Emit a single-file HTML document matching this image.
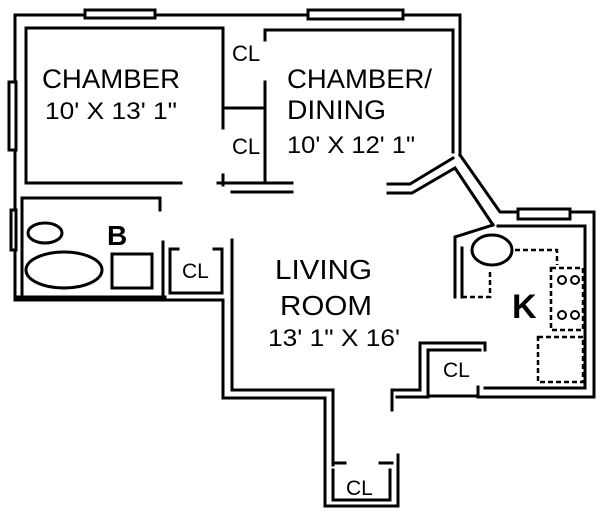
<!DOCTYPE html>
<html><head><style>html,body{margin:0;padding:0;background:#fff}svg{display:block}
text{font-family:"Liberation Sans",Arial,sans-serif;fill:#000}</style></head><body>
<svg width="600" height="511" viewBox="0 0 600 511" xmlns="http://www.w3.org/2000/svg">
<g fill="none" stroke="#000" stroke-width="3" stroke-linecap="square">
<polyline points="15,297 15,15 460,15 460,155"/>
<polyline points="181,183 26,183 26,28 223,28 223,128"/>
<line x1="223" y1="175" x2="223" y2="185"/>
<line x1="225" y1="108" x2="265" y2="108"/>
<polyline points="265,40 265,30 453,30 453,152"/>
<line x1="265" y1="82" x2="265" y2="183"/>
<line x1="218" y1="183" x2="292" y2="183"/>
<line x1="232" y1="192" x2="292" y2="192"/>
<polyline points="388,184 410,184 453,158"/>
<polyline points="388,193 412,193 455,168 493,225"/>
<polyline points="460,155 500,212 590,212"/>
<polyline points="493,225 455,237 455,297"/>
<polyline points="498,226 585,226"/>
<rect x="85" y="10" width="70" height="8" fill="#fff"/>
<rect x="308" y="10" width="95" height="9" fill="#fff"/>
<rect x="9" y="82" width="7" height="68" fill="#fff"/>
<rect x="11" y="210" width="5" height="40" fill="#fff"/>
<rect x="518" y="209" width="52" height="10" fill="#fff"/>
<polyline points="22,295 22,198 160,198 160,210"/>
<line x1="163" y1="242" x2="163" y2="295"/>
<polyline points="15,297 165,297"/>
<ellipse cx="45" cy="233" rx="17" ry="10"/>
<ellipse cx="64" cy="270" rx="38" ry="18"/>
<rect x="112" y="254" width="40" height="34"/>
<polyline points="178,249 170,249 170,293 222,293 222,249 214,249"/>
<polyline points="15,300 223,300 223,398 325,398 325,465"/>
<polyline points="232,240 232,390 333,390 333,465"/>
<polyline points="325,465 325,506 398,506 398,455"/>
<polyline points="333,470 333,500 390,500 390,470"/>
<line x1="333" y1="463" x2="345" y2="463"/>
<line x1="380" y1="463" x2="392" y2="463"/>
<polyline points="392,410 392,390 420,390 420,343 485,343 485,350"/>
<polyline points="397,397 428,397 428,350 480,350"/>
<line x1="428" y1="396" x2="478" y2="396"/>
<line x1="478" y1="387" x2="478" y2="397"/>
<polyline points="485,388 585,388 585,226"/>
<polyline points="478,397 594,397 594,212 585,212"/>
<line x1="462" y1="248" x2="462" y2="297"/>
<ellipse cx="492" cy="250" rx="20" ry="15"/>
</g>
<g fill="none" stroke="#000" stroke-width="2.5" stroke-dasharray="5,3">
<polyline points="462,297 490,297 490,270"/>
<polyline points="515,250 557,250 557,265"/>
<rect x="551" y="268" width="32" height="62"/>
<rect x="538" y="337" width="45" height="45"/>
</g>
<g fill="none" stroke="#000" stroke-width="2">
<circle cx="562" cy="280" r="4"/><circle cx="575" cy="280" r="4"/>
<circle cx="562" cy="315" r="4"/><circle cx="575" cy="315" r="4"/>
</g>
<text x="42" y="88" font-size="27" textLength="138" lengthAdjust="spacingAndGlyphs">CHAMBER</text>
<text x="45" y="119" font-size="24" textLength="132" lengthAdjust="spacingAndGlyphs">10' X 13' 1"</text>
<text x="232" y="61" font-size="22">CL</text>
<text x="232" y="154" font-size="22">CL</text>
<text x="287" y="88" font-size="27" textLength="145" lengthAdjust="spacingAndGlyphs">CHAMBER/</text>
<text x="287" y="119" font-size="27" textLength="99" lengthAdjust="spacingAndGlyphs">DINING</text>
<text x="287" y="153" font-size="24" textLength="128" lengthAdjust="spacingAndGlyphs">10' X 12' 1"</text>
<text x="107" y="245" font-size="28" font-weight="bold">B</text>
<text x="182" y="278" font-size="21">CL</text>
<text x="275" y="279" font-size="28" textLength="97" lengthAdjust="spacingAndGlyphs">LIVING</text>
<text x="280" y="315" font-size="28" textLength="92" lengthAdjust="spacingAndGlyphs">ROOM</text>
<text x="268" y="346" font-size="24" textLength="132" lengthAdjust="spacingAndGlyphs">13' 1" X 16'</text>
<text x="512" y="318" font-size="34" font-weight="bold">K</text>
<text x="443" y="377" font-size="21">CL</text>
<text x="346" y="495" font-size="21">CL</text>
</svg>
</body></html>
